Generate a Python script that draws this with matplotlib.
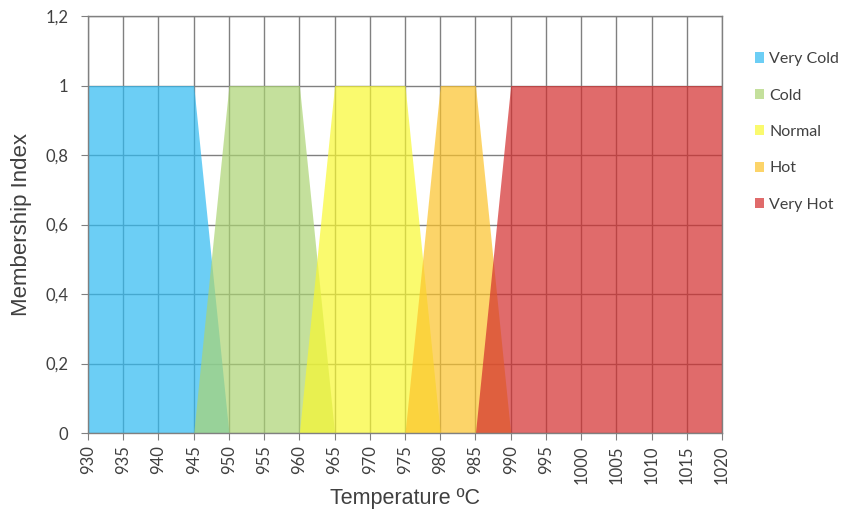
import matplotlib
matplotlib.use("Agg")
import matplotlib.pyplot as plt
from matplotlib.patches import Patch

# membership functions (trapezoids)
very_cold_x = [930, 945, 950]
very_cold_y = [1, 1, 0]
cold_x = [945, 950, 960, 965]
cold_y = [0, 1, 1, 0]
normal_x = [960, 965, 975, 980]
normal_y = [0, 1, 1, 0]
hot_x = [975, 980, 985, 990]
hot_y = [0, 1, 1, 0]
very_hot_x = [985, 990, 1020]
very_hot_y = [0, 1, 1]

labels = ["Very Cold", "Cold", "Normal", "Hot", "Very Hot"]
x_ticks = list(range(930, 1021, 5))
y_ticks = [0, 0.2, 0.4, 0.6, 0.8, 1.0, 1.2]
y_tick_labels = ["0", "0,2", "0,4", "0,6", "0,8", "1", "1,2"]

COLORS = ["#2ebaf2", "#abd472", "#f8f830", "#fcc32a", "#d32d2d"]
ALPHA = 0.7
TEXT = "#404040"
GRID = "#808080"

fig = plt.figure(figsize=(8.49, 5.18), dpi=100)
ax = fig.add_axes([0.1037, 0.164, 0.7467, 0.805])

series = [
    (very_cold_x, very_cold_y),
    (cold_x, cold_y),
    (normal_x, normal_y),
    (hot_x, hot_y),
    (very_hot_x, very_hot_y),
]
for (xs, ys), c in zip(series, COLORS):
    ax.fill_between(xs, 0, ys, color=c, alpha=ALPHA, linewidth=0, zorder=2)

ax.set_xlim(930, 1020)
ax.set_ylim(0, 1.2)
ax.set_xticks(x_ticks)
ax.set_xticklabels([str(t) for t in x_ticks], rotation=90,
                   fontfamily="Lato", fontsize=12, color=TEXT)
ax.set_yticks(y_ticks)
ax.set_yticklabels(y_tick_labels, fontfamily="Lato", fontsize=12, color=TEXT)
ax.grid(True, color=GRID, linewidth=1, zorder=1)
ax.set_axisbelow(True)
for s in ax.spines.values():
    s.set_color(GRID)
    s.set_linewidth(1)
ax.tick_params(axis="x", direction="out", length=5, color=GRID, pad=4)
ax.tick_params(axis="y", direction="out", length=5, color=GRID, pad=9)

ax.set_xlabel("Temperature ºC", fontfamily="Liberation Sans", fontsize=15.5,
              color=TEXT, labelpad=3)
ax.set_ylabel("Membership Index", fontfamily="Liberation Sans", fontsize=16,
              color=TEXT, labelpad=10)

handles = [Patch(facecolor=c, alpha=ALPHA, edgecolor="none") for c in COLORS]
fig.legend(handles, labels, loc="upper left", bbox_to_anchor=(0.872, 0.927),
           frameon=False, handlelength=0.6, handleheight=0.6,
           handletextpad=0.3, labelspacing=1.4,
           prop={"family": "Lato", "size": 11.5}, labelcolor=TEXT)

fig.savefig("out.png", dpi=100)
